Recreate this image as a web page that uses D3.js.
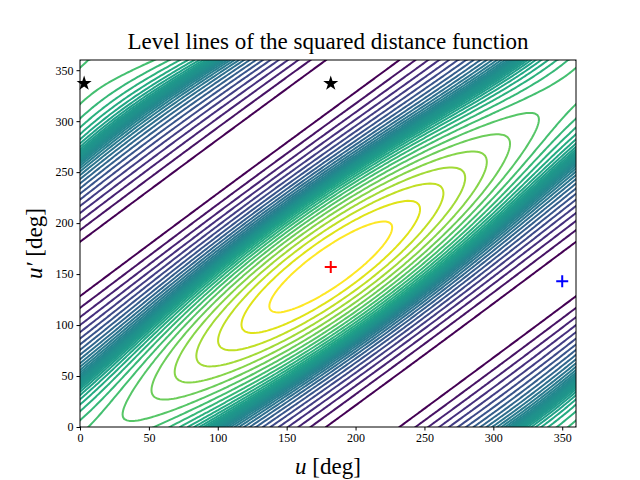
<!DOCTYPE html>
<html><head><meta charset="utf-8">
<script src="https://cdn.jsdelivr.net/npm/d3@7"></script>
<style>body{margin:0;background:#fff}</style>
</head><body>
<svg id="chart" width="640" height="480"></svg>
<script>
// ticks and markers
const xTicks = [0, 50, 100, 150, 200, 250, 300, 350]
const yTicks = [0, 50, 100, 150, 200, 250, 300, 350]
const stars = [[3, 337], [182, 337]]
const crosses = [[182, 157, "#ff0000"], [350, 143, "#0000ff"]]
// shape of the field: diagonal offset of the max, centre of the max, modulation
const peakOffset = [-25]
const peakCentre = [182, 157]
const modulation = [0.09]
const levelWarp = [0.85]
const nLevels = 42

const svg = d3.select('#chart')
const m = {l: 80, r: 576, t: 60, b: 427}
const x = d3.scaleLinear().domain([0, 360]).range([m.l, m.r])
const y = d3.scaleLinear().domain([0, 360]).range([m.b, m.t])

// sample the field on a grid
const step = 2, n = 360 / step + 1
const rad = Math.PI / 180
const values = new Array(n * n)
for (let j = 0; j < n; j++) for (let i = 0; i < n; i++) {
    let u = i * step, v = j * step
    values[j * n + i] = (1 + Math.cos((v - u - peakOffset[0]) * rad)) *
        (1 + modulation[0] * Math.cos((u - peakCentre[0]) * rad)) *
        (1 + modulation[0] * Math.cos((v - peakCentre[1]) * rad))
}
const ext = d3.extent(values)
const levels = d3.range(1, nLevels).map(k => {
    let t = k / nLevels
    t = t + levelWarp[0] * Math.sin(2 * Math.PI * t) / (2 * Math.PI)
    return ext[0] + (ext[1] - ext[0]) * t
})
const contours = d3.contours().size([n, n]).thresholds(levels)(values)

const gx = d3.scaleLinear().domain([0, n - 1]).range([m.l, m.r])
const gy = d3.scaleLinear().domain([0, n - 1]).range([m.b, m.t])
const path = d3.geoPath(d3.geoTransform({
    point: function (px, py) { this.stream.point(gx(px - 0.5), gy(py - 0.5)) }
}))

svg.append('clipPath').attr('id', 'clip').append('rect')
    .attr('x', m.l).attr('y', m.t).attr('width', m.r - m.l).attr('height', m.b - m.t)

const col = d3.scaleSequential(d3.interpolateViridis).domain([levels[0], levels[levels.length - 1]])
svg.append('g').attr('clip-path', 'url(#clip)')
    .selectAll('path').data(contours).join('path')
    .attr('d', path).attr('fill', 'none')
    .attr('stroke', c => col(c.value)).attr('stroke-width', 2)

// markers
const star = d3.symbol().type(d3.symbolStar).size(70)
svg.selectAll('.star').data(stars).join('path')
    .attr('transform', d => `translate(${x(d[0])},${y(d[1])})`)
    .attr('d', star).attr('fill', '#000')
svg.selectAll('.cross').data(crosses).join('path')
    .attr('d', d => `M${x(d[0]) - 6},${y(d[1])}h12M${x(d[0])},${y(d[1]) - 6}v12`)
    .attr('stroke', d => d[2]).attr('stroke-width', 2)

// axes
const font = 'Liberation Serif, DejaVu Serif, serif'
const ax = svg.append('g').attr('transform', `translate(0,${m.b})`)
    .call(d3.axisBottom(x).tickValues(xTicks).tickSize(3.5).tickSizeOuter(0))
const ay = svg.append('g').attr('transform', `translate(${m.l},0)`)
    .call(d3.axisLeft(y).tickValues(yTicks).tickSize(3.5).tickSizeOuter(0))
for (const a of [ax, ay]) {
    a.selectAll('text').attr('font-family', font).attr('font-size', 12).attr('fill', '#000')
    a.select('.domain').remove()
}
svg.append('rect').attr('x', m.l).attr('y', m.t).attr('width', m.r - m.l).attr('height', m.b - m.t)
    .attr('fill', 'none').attr('stroke', '#000').attr('stroke-width', 1)

svg.append('text').attr('x', (m.l + m.r) / 2).attr('y', 49).attr('text-anchor', 'middle')
    .attr('font-family', font).attr('font-size', 23).text('Level lines of the squared distance function')
const xl = svg.append('text').attr('x', (m.l + m.r) / 2).attr('y', 474).attr('text-anchor', 'middle')
    .attr('font-family', font).attr('font-size', 23)
xl.append('tspan').attr('font-style', 'italic').text('u')
xl.append('tspan').text(' [deg]')
const yl = svg.append('text').attr('transform', `translate(42,${(m.t + m.b) / 2}) rotate(-90)`)
    .attr('text-anchor', 'middle').attr('font-family', font).attr('font-size', 23)
yl.append('tspan').attr('font-style', 'italic').text('u′')
yl.append('tspan').text(' [deg]')
</script>
</body></html>
